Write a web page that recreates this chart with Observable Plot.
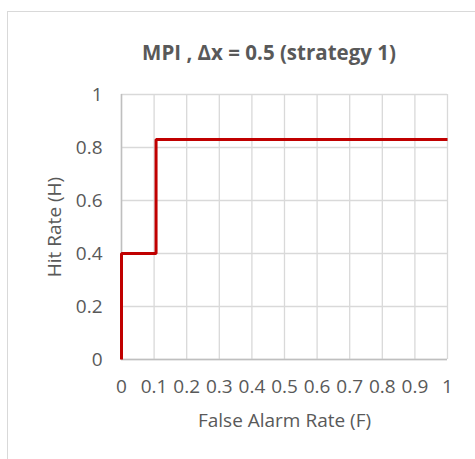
<!DOCTYPE html>
<html>
<head>
<meta charset="utf-8">
<script src="https://cdn.jsdelivr.net/npm/d3@7"></script>
<script src="https://cdn.jsdelivr.net/npm/@observablehq/plot@0.6"></script>
<style>
  html, body { margin: 0; padding: 0; background: #fff; overflow: hidden; }
  #wrap { position: relative; width: 475px; height: 459px; }
  #frame { position: absolute; left: 7px; top: 11px; width: 520px; height: 520px; border: 1px solid #d9d9d9; box-sizing: border-box; }
  #chart { position: absolute; left: 0; top: 0; }
</style>
</head>
<body>
<div id="wrap"><div id="frame"></div><div id="chart"></div></div>
<script>
// Data
const falseAlarmRate = [0, 0, 0.106, 1];
const hitRate = [0, 0.4, 0.83, 0.83];
const xTicks = [0, 0.1, 0.2, 0.3, 0.4, 0.5, 0.6, 0.7, 0.8, 0.9, 1];
const yTicks = [0, 0.2, 0.4, 0.6, 0.8, 1];
const titleText = "MPI , \u0394x = 0.5 (strategy 1)";
const xLabel = "False Alarm Rate (F)";
const yLabel = "Hit Rate (H)";

const pts = falseAlarmRate.map((f, i) => ({F: f, H: hitRate[i]}));
const fmt = d => String(+d.toFixed(1));
const textColor = "#595959";
const fs = 19;

const chart = Plot.plot({
  width: 475,
  height: 459,
  marginLeft: 121,
  marginRight: 28,
  marginTop: 94,
  marginBottom: 100,
  style: {fontFamily: "'Open Sans', sans-serif", fontSize: fs + "px", color: textColor, background: "transparent"},
  x: {domain: [0, 1]},
  y: {domain: [0, 1]},
  marks: [
    Plot.gridX(xTicks, {stroke: "#d9d9d9", strokeOpacity: 1, strokeWidth: 1.3}),
    Plot.gridY(yTicks, {stroke: "#d9d9d9", strokeOpacity: 1, strokeWidth: 1.3}),
    Plot.ruleX([0], {stroke: "#bfbfbf", strokeWidth: 1.5}),
    Plot.ruleY([0], {stroke: "#bfbfbf", strokeWidth: 1.5}),
    Plot.axisX(xTicks, {tickSize: 0, tickPadding: 20, tickFormat: fmt, label: null, fill: textColor, fontSize: fs}),
    Plot.axisY(yTicks, {tickSize: 0, tickPadding: 19, tickFormat: fmt, label: null, fill: textColor, fontSize: fs}),
    Plot.line(pts, {x: "F", y: "H", curve: "step-after", stroke: "#C00000", strokeWidth: 3, strokeLinecap: "butt", strokeLinejoin: "miter"}),
    Plot.text([xLabel], {frameAnchor: "bottom", dy: 61, textAnchor: "middle", lineAnchor: "middle", fill: textColor, fontSize: fs}),
    Plot.text([yLabel], {frameAnchor: "left", dx: -67, rotate: -90, textAnchor: "middle", lineAnchor: "middle", fill: textColor, fontSize: fs}),
    Plot.text([titleText], {frameAnchor: "top", dy: -41, dx: -15.5, textAnchor: "middle", lineAnchor: "middle", fill: textColor, fontSize: 20.5, fontWeight: "bold"})
  ]
});
document.getElementById("chart").appendChild(chart);
</script>
</body>
</html>
